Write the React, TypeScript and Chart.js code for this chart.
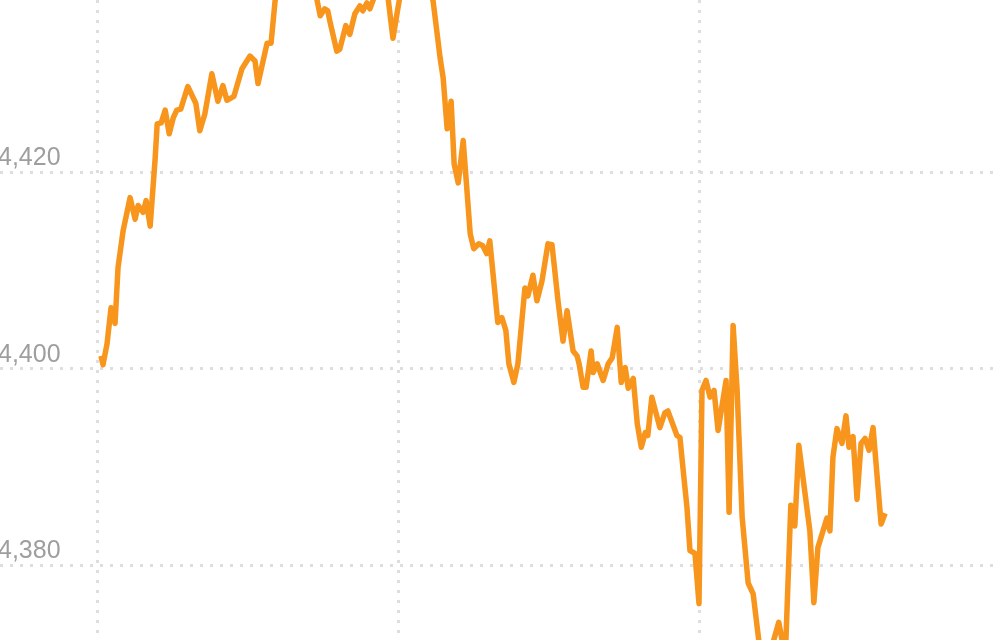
import { useEffect, useRef } from "react";
import { Chart, registerables } from "chart.js";

Chart.register(...registerables);

// minutes after the 10:00 gridline, index level
const TIMES = [
  0.6, 1.0, 1.8, 2.6, 3.4, 4.0, 5.0, 6.4, 7.4, 8.0, 9.0, 9.6, 10.4, 11.4, 11.8,
  12.6, 13.4, 14.2, 15.0, 15.7, 16.5, 17.9, 19.5, 20.3, 21.3, 22.7, 23.9, 24.9,
  25.7, 27.1, 28.7, 30.3, 31.3, 31.9, 33.7, 34.5, 35.3, 36.7, 39.3, 41.3, 42.7,
  43.7, 44.3, 45.2, 45.8, 46.2, 47.6, 48.2, 49.4, 50.2, 51.2, 52.2, 52.8, 53.6,
  54.2, 55.0, 56.4, 57.8, 58.8, 59.6, 60.2, 62.2, 64.2, 65.8, 66.8, 68.2, 68.8,
  69.6, 70.4, 71.0, 71.8, 72.8, 74.2, 74.9, 75.9, 76.7, 77.5, 78.1, 79.7, 80.5,
  81.3, 81.9, 82.9, 83.7, 85.1, 85.7, 86.7, 87.5, 88.5, 89.7, 90.5, 91.7, 92.7,
  93.5, 94.7, 95.5, 95.9, 96.7, 97.3, 98.3, 98.7, 99.5, 100.7, 101.7, 102.5,
  103.5, 104.3, 105.1, 105.7, 106.7, 107.5, 108.3, 109.1, 109.6, 110.4, 112.0,
  113.0, 113.6, 115.4, 116.0, 116.8, 117.4, 118.0, 119.0, 119.8, 120.4, 121.2,
  122.0, 122.8, 123.6, 125.2, 125.8, 126.6, 127.4, 128.4, 129.6, 130.6, 132.6,
  135.7, 137.0, 138.1, 138.9, 139.7, 141.9, 142.7, 143.5, 145.3, 145.9, 146.5,
  147.3, 148.3, 149.1, 149.7, 150.5, 151.3, 152.1, 152.9, 153.7, 154.5, 156.1,
  156.9,
];

const VALUES = [
  4401.3, 4400.4, 4402.5, 4406.2, 4404.6, 4410.3, 4414.0, 4417.4, 4415.2, 4416.6,
  4415.9, 4417.1, 4414.5, 4421.4, 4424.9, 4425.0, 4426.3, 4423.9, 4425.5, 4426.3,
  4426.4, 4428.7, 4427.0, 4424.2, 4425.9, 4430.0, 4427.2, 4428.8, 4427.3, 4427.7,
  4430.5, 4431.8, 4431.3, 4429.0, 4433.1, 4433.1, 4437.4, 4440.4, 4442.5, 4441.0,
  4439.9, 4437.4, 4435.9, 4436.6, 4436.4, 4435.4, 4432.3, 4432.5, 4434.9, 4434.0,
  4436.1, 4436.9, 4436.4, 4437.2, 4436.6, 4437.7, 4438.2, 4437.8, 4433.6, 4436.1,
  4437.9, 4441.5, 4440.4, 4438.9, 4437.4, 4431.6, 4429.6, 4424.4, 4427.2, 4420.8,
  4418.9, 4423.2, 4413.7, 4412.2, 4412.7, 4412.5, 4411.7, 4413.0, 4404.7, 4405.2,
  4403.9, 4400.5, 4398.6, 4400.5, 4408.2, 4407.4, 4409.5, 4406.9, 4408.9, 4412.7,
  4412.6, 4406.9, 4402.8, 4405.9, 4401.8, 4401.3, 4400.5, 4398.1, 4398.1, 4401.8,
  4399.6, 4400.5, 4398.8, 4400.5, 4401.1, 4404.2, 4398.6, 4400.1, 4398.0, 4399.0,
  4394.4, 4392.0, 4393.5, 4393.2, 4397.1, 4394.0, 4395.5, 4395.7, 4393.2, 4393.0,
  4388.9, 4385.9, 4381.5, 4381.2, 4376.1, 4397.8, 4398.8, 4397.1, 4397.8, 4393.7,
  4398.8, 4385.4, 4404.4, 4397.8, 4384.9, 4378.2, 4377.1, 4368.6, 4374.2, 4370.6,
  4386.1, 4384.0, 4392.2, 4383.5, 4376.2, 4381.8, 4384.8, 4383.5, 4391.0, 4393.9,
  4392.4, 4395.2, 4392.0, 4393.1, 4386.7, 4392.4, 4392.9, 4391.7, 4394.0, 4384.2,
  4385.3,
];

const X_GRID = [0, 60, 120];
const Y_TICKS = [4380, 4400, 4420];

const LINE_COLOR = "#f7951d";
const GRID_COLOR = "#dedede";

export default function App() {
  const canvasRef = useRef<HTMLCanvasElement>(null);

  useEffect(() => {
    if (!canvasRef.current) return;
    const chart = new Chart(canvasRef.current, {
      type: "line",
      data: {
        datasets: [
          {
            data: TIMES.map((t, i) => ({ x: t, y: VALUES[i] })),
            borderColor: LINE_COLOR,
            borderWidth: 5.5,
            borderJoinStyle: "round",
            pointRadius: 0,
            tension: 0,
            fill: false,
          },
        ],
      },
      options: {
        animation: false,
        responsive: true,
        maintainAspectRatio: false,
        layout: { padding: 0 },
        plugins: { legend: { display: false }, tooltip: { enabled: false } },
        scales: {
          x: {
            type: "linear",
            min: -19.53,
            max: 179.8,
            afterBuildTicks: (axis) => {
              axis.ticks = X_GRID.map((v) => ({ value: v }));
            },
            afterFit: (axis) => {
              axis.height = 0;
            },
            ticks: { display: false },
            grid: { color: GRID_COLOR, lineWidth: 3, drawTicks: false },
            border: { display: false, dash: [3, 7] },
          },
          y: {
            min: 4372.4,
            max: 4437.5,
            afterBuildTicks: (axis) => {
              axis.ticks = Y_TICKS.map((v) => ({ value: v }));
            },
            afterFit: (axis) => {
              axis.width = 0;
              axis.paddingTop = 0;
              axis.paddingBottom = 0;
            },
            ticks: {
              mirror: true,
              padding: -2,
              labelOffset: -14,
              color: "#9e9e9e",
              font: { family: "Helvetica, Arial, 'Liberation Sans', sans-serif", size: 25 },
            },
            grid: { color: GRID_COLOR, lineWidth: 3, drawTicks: false },
            border: { display: false, dash: [3, 7] },
          },
        },
      },
    });
    return () => chart.destroy();
  }, []);

  return (
    <div style={{ position: "fixed", left: 0, top: 0, width: 1000, height: 640, background: "#fff" }}>
      <canvas ref={canvasRef} />
    </div>
  );
}
